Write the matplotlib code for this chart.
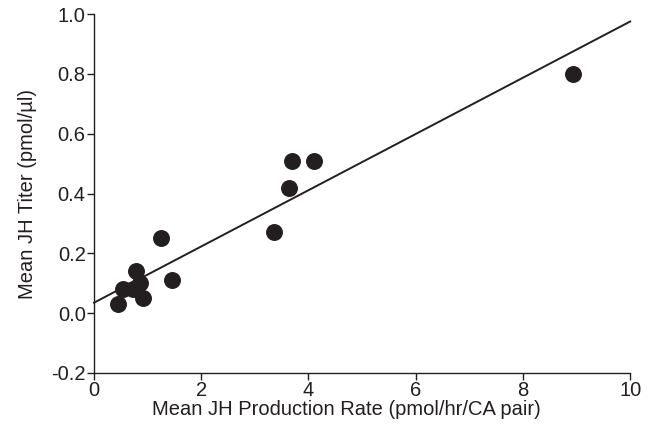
import matplotlib
matplotlib.use("Agg")
import matplotlib.pyplot as plt
import numpy as np

plt.rcParams['font.family'] = ['Liberation Sans', 'DejaVu Sans']

production_rate = [0.45, 0.54, 0.72, 0.78, 0.86, 0.91, 1.25, 1.46, 3.36, 3.64, 3.69, 4.10, 8.94]
jh_titer =        [0.03, 0.08, 0.08, 0.14, 0.10, 0.05, 0.25, 0.11, 0.27, 0.42, 0.51, 0.51, 0.80]
fit_intercept = 0.035
fit_slope = 0.094

x_ticks = [0, 2, 4, 6, 8, 10]
y_ticks = [-0.2, 0.0, 0.2, 0.4, 0.6, 0.8, 1.0]

col = '#231f20'
fig = plt.figure(figsize=(6.53, 4.33), dpi=100)
ax = fig.add_axes([0.144, 0.1386, 0.821, 0.829])

xl = np.array([0, 10])
ax.plot(xl, fit_intercept + fit_slope * xl, color=col, lw=1.4, clip_on=False)
ax.scatter(production_rate, jh_titer, s=125, color=col, zorder=3, clip_on=False)

ax.set_xlim(0, 10)
ax.set_ylim(-0.2, 1.0)
ax.set_xticks(x_ticks)
ax.set_xticklabels([str(t) for t in x_ticks])
ax.set_yticks(y_ticks)
ax.set_yticklabels([f"{t:.1f}" for t in y_ticks])
for s in ['top', 'right']:
    ax.spines[s].set_visible(False)
for s in ['left', 'bottom']:
    ax.spines[s].set_color(col)
    ax.spines[s].set_linewidth(1.0)
ax.tick_params(direction='out', length=5, width=1.0, color=col, labelcolor=col, labelsize=14.5, pad=1)
ax.set_xlabel('Mean JH Production Rate (pmol/hr/CA pair)', fontsize=14.5, color=col)
ax.xaxis.set_label_coords(0.47, -0.075, transform=ax.transAxes)
ax.set_ylabel('Mean JH Titer (pmol/µl)', fontsize=14.5, color=col, labelpad=10)

fig.savefig('out.png', dpi=100)
